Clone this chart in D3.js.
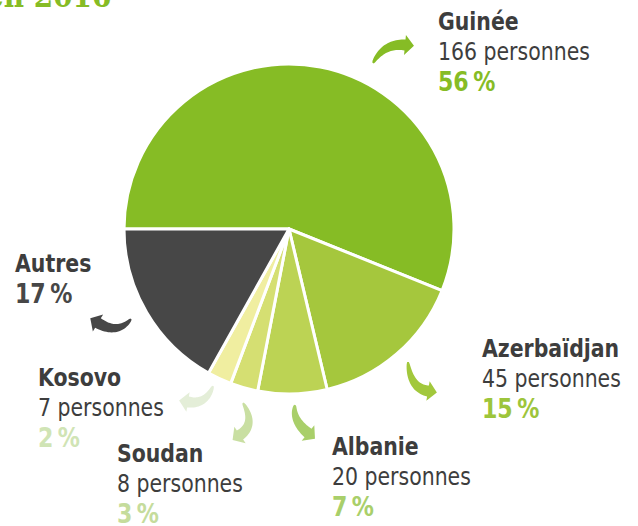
<!DOCTYPE html>
<html>
<head>
<meta charset="utf-8">
<script src="https://cdn.jsdelivr.net/npm/d3@7"></script>
<style>
  html, body { margin: 0; padding: 0; background: #fff; }
  svg { display: block; }
  .name { font-family: 'DejaVu Sans Condensed', 'DejaVu Sans', sans-serif; font-weight: 700; fill: #3d3d3d; }
  .count { font-family: 'DejaVu Sans Condensed', 'DejaVu Sans', sans-serif; font-weight: 400; fill: #3d3d3d; }
  .pct { font-family: 'DejaVu Sans Condensed', 'DejaVu Sans', sans-serif; font-weight: 700; }
</style>
</head>
<body>
<script>
// Demandeurs par nationalité
const countries = ["Guinée", "Azerbaïdjan", "Albanie", "Soudan", "Kosovo", "Autres"];
const persons   = [166, 45, 20, 8, 7, 50];
const percents  = [56, 15, 7, 3, 2, 17];
const sliceColors = ["#86bc25", "#a5c73d", "#bcd354", "#d5df72", "#f0eea0", "#474747"];
const pctColors   = ["#86bc25", "#9dc53b", "#a9cf6a", "#c5dc9c", "#d0e4b5", "#474747"];
const titleText = "en 2016";

const W = 638, H = 526;
const cx = 289, cy = 229, R = 165;

const svg = d3.select("body").append("svg").attr("width", W).attr("height", H);

// Title (top, partly outside the frame)
svg.append("text")
  .attr("x", -14).attr("y", 7)
  .attr("font-family", "'DejaVu Serif Condensed', 'DejaVu Serif', serif")
  .attr("font-weight", 700)
  .attr("font-size", 31)
  .attr("fill", "#86bc25")
  .text(titleText);

// Pie
const data = countries.map((c, i) => ({ country: c, persons: persons[i], pct: percents[i], color: sliceColors[i], pctColor: pctColors[i] }));
const pie = d3.pie().sort(null).value(d => d.persons).startAngle(-Math.PI / 2).endAngle(1.5 * Math.PI);
const arc = d3.arc().innerRadius(0).outerRadius(R);

svg.append("g").attr("transform", `translate(${cx},${cy})`)
  .selectAll("path").data(pie(data)).join("path")
  .attr("d", arc)
  .attr("fill", d => d.data.color)
  .attr("stroke", "#fff")
  .attr("stroke-width", 3)
  .attr("stroke-linejoin", "round");

// Label placement: [x, baseline of first line]
const labelPos = {
  "Guinée": [438, 30],
  "Azerbaïdjan": [482, 357],
  "Albanie": [332, 455],
  "Soudan": [117, 462],
  "Kosovo": [38, 386],
  "Autres": [15, 272]
};
const lineGap = 30;
const squeeze = 0.91;

data.forEach(d => {
  const [x, y] = labelPos[d.country];
  const g = svg.append("g").attr("transform", `translate(${x},0) scale(${squeeze},1)`);
  let line = 0;
  g.append("text").attr("class", "name").attr("x", 0).attr("y", y).attr("font-size", 25).text(d.country);
  line++;
  if (d.country !== "Autres") {
    g.append("text").attr("class", "count").attr("x", 0).attr("y", y + lineGap * line).attr("font-size", 25)
      .text(`${d.persons} personnes`);
    line++;
  }
  g.append("text").attr("class", "pct").attr("x", 0).attr("y", y + lineGap * line + 1).attr("font-size", 27)
    .attr("fill", d.pctColor).text(`${d.pct}\u202F%`);
});

// Curved arrows: tail T, control C, neck N
const arrows = [
  { country: "Guinée",      color: "#86bc25", T: [373, 63],  C: [384, 43],  N: [405, 45] },
  { country: "Azerbaïdjan", color: "#a2c83c", T: [408, 362], C: [410, 388], N: [428, 391] },
  { country: "Albanie",     color: "#a9cf6a", T: [295, 405], C: [292, 420], N: [308, 433] },
  { country: "Soudan",      color: "#c9dfa2", T: [243, 403], C: [256, 424], N: [240, 435] },
  { country: "Kosovo",      color: "#e4eed8", T: [213, 386], C: [206, 405], N: [188, 402] },
  { country: "Autres",      color: "#474747", T: [131, 319], C: [118, 335], N: [98, 323] }
];

function arrowPath(a, bw, hl, hw) {
  const [T, C, N] = [a.T, a.C, a.N];
  const n = 24, left = [], right = [];
  for (let i = 0; i <= n; i++) {
    const t = i / n;
    const x = (1 - t) * (1 - t) * T[0] + 2 * (1 - t) * t * C[0] + t * t * N[0];
    const y = (1 - t) * (1 - t) * T[1] + 2 * (1 - t) * t * C[1] + t * t * N[1];
    const dx = 2 * (1 - t) * (C[0] - T[0]) + 2 * t * (N[0] - C[0]);
    const dy = 2 * (1 - t) * (C[1] - T[1]) + 2 * t * (N[1] - C[1]);
    const l = Math.hypot(dx, dy);
    const nx = -dy / l, ny = dx / l;
    const hwid = bw / 2 * (0.15 + 0.85 * Math.pow(t, 0.6));
    left.push([x + nx * hwid, y + ny * hwid]);
    right.push([x - nx * hwid, y - ny * hwid]);
  }
  const ux = (N[0] - C[0]), uy = (N[1] - C[1]);
  const ul = Math.hypot(ux, uy);
  const u = [ux / ul, uy / ul], nn = [-u[1], u[0]];
  const head = [
    [N[0] + nn[0] * hw, N[1] + nn[1] * hw],
    [N[0] + u[0] * hl, N[1] + u[1] * hl],
    [N[0] - nn[0] * hw, N[1] - nn[1] * hw]
  ];
  const pts = left.concat(head, right.reverse());
  return d3.line()(pts) + "Z";
}

svg.append("g").selectAll("path").data(arrows).join("path")
  .attr("d", a => arrowPath(a, 11, 9, 10))
  .attr("fill", a => a.color);
</script>
</body>
</html>
